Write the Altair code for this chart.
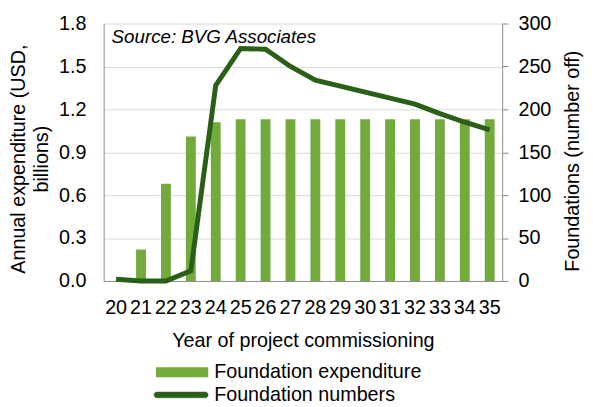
import altair as alt
import pandas as pd

years = ["20", "21", "22", "23", "24", "25", "26", "27", "28", "29", "30", "31", "32", "33", "34", "35"]
expenditure = [0.0, 0.22, 0.68, 1.01, 1.11, 1.13, 1.13, 1.13, 1.13, 1.13, 1.13, 1.13, 1.13, 1.13, 1.13, 1.13]
foundations = [2, 0, 0, 12, 228, 271, 270, 250, 234, 227, 220, 213, 206, 195, 185, 176]

df = pd.DataFrame({
    "year": years,
    "exp": expenditure,
    "num": foundations,
    "s1": ["Foundation expenditure"] * len(years),
    "s2": ["Foundation numbers"] * len(years),
})

FONT = "Liberation Sans"
BAR = "#72ab3c"
LINE = "#2a5f17"
H = 261

x = alt.X("year:N", sort=years, title="Year of project commissioning",
          scale=alt.Scale(paddingInner=0.6, paddingOuter=0.3),
          axis=alt.Axis(labelAngle=0, ticks=False, labelPadding=17, titlePadding=13,
                        domainColor="#8c8c8c", labelFontSize=20, titleFontSize=20,
                        labelColor="#000000", titleColor="#000000", labelFont=FONT, titleFont=FONT,
                        titleFontWeight="normal"))

bars = alt.Chart(df).mark_bar(size=10).encode(
    x=x,
    y=alt.Y("exp:Q", title=["Annual expenditure (USD,", "billions)"],
            scale=alt.Scale(domain=[0, 1.8]),
            axis=alt.Axis(values=[0, 0.3, 0.6, 0.9, 1.2, 1.5, 1.8], format=".1f", ticks=False,
                          labelPadding=18, domainColor="#8c8c8c",
                          gridColor="#d9d9d9", labelFontSize=20, titleFontSize=20,
                          labelColor="#000000", titleColor="#000000", labelFont=FONT, titleFont=FONT,
                          titleFontWeight="normal", titleLineHeight=23,
                          titleX=-86, titleY=137, titleAngle=270, titleBaseline="middle",
                          titleAlign="center")),
    color=alt.Color("s1:N", scale=alt.Scale(range=[BAR]),
                    legend=alt.Legend(title=None, orient="none", legendX=66, legendY=340,
                                      symbolType="M-2,-0.38L2,-0.38L2,0.38L-2,0.38Z", symbolSize=700,
                                      symbolStrokeWidth=0, labelFontSize=20, labelFont=FONT,
                                      labelColor="#000000", labelOffset=19, labelLimit=400)),
)

line = alt.Chart(df).mark_line(strokeWidth=5).encode(
    x=x,
    y=alt.Y("num:Q", title="Foundations (number off)",
            scale=alt.Scale(domain=[0, 300]),
            axis=alt.Axis(orient="right", values=[0, 50, 100, 150, 200, 250, 300], grid=False,
                          tickSize=6, tickColor="#8c8c8c", domainColor="#8c8c8c",
                          labelPadding=10, titleAngle=270,
                          titleX=71, titleY=139, titleBaseline="middle", titleAlign="center",
                          labelFontSize=20, titleFontSize=20,
                          labelColor="#000000", titleColor="#000000", labelFont=FONT, titleFont=FONT,
                          titleFontWeight="normal")),
    stroke=alt.Stroke("s2:N", scale=alt.Scale(range=[LINE]),
                      legend=alt.Legend(title=None, orient="none", legendX=65, legendY=363,
                                        symbolType="M-1.85,-0.22L1.85,-0.22A0.22,0.22 0 0 1 1.85,0.22L-1.85,0.22A0.22,0.22 0 0 1 -1.85,-0.22Z",
                                        symbolSize=700,
                                        symbolFillColor=LINE, symbolStrokeWidth=0.5,
                                        labelFontSize=20, labelFont=FONT,
                                        labelColor="#000000", labelOffset=20, labelLimit=400)),
)

source = alt.Chart(pd.DataFrame({"t": ["Source: BVG Associates"]})).mark_text(
    align="left", baseline="middle", fontStyle="italic", fontSize=19, font=FONT, color="#000000"
).encode(text="t:N", x=alt.value(8), y=alt.value(14))

chart = alt.layer(bars, line, source).resolve_scale(
    y="independent", color="independent", stroke="independent"
).properties(
    width=404, height=H,
    autosize=alt.AutoSizeParams(type="none"),
    padding={"left": 97, "top": 13, "right": 84, "bottom": 123},
).configure_view(stroke=None).configure_axis(gridColor="#d9d9d9")

chart.save("out.html", embed_options={"renderer": "svg", "actions": False})
